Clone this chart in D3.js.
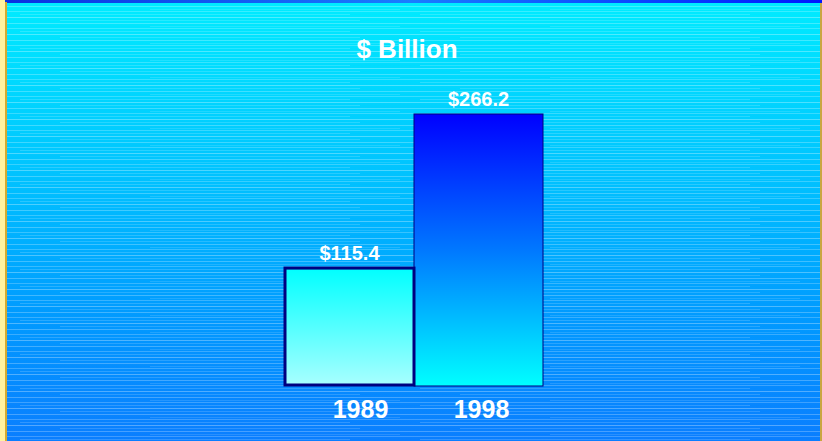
<!DOCTYPE html>
<html>
<head>
<meta charset="utf-8">
<script src="https://cdn.jsdelivr.net/npm/d3@7"></script>
<style>
  html, body { margin: 0; padding: 0; background: #fff; }
  svg { display: block; }
</style>
</head>
<body>
<div id="chart"></div>
<script>
// data
const years = ["1989", "1998"];
const values = [115.4, 266.2];
const valueLabels = ["$115.4", "$266.2"];
const unitTitle = "$ Billion";

function drawChart() {
    const W = 822, H = 441;
    const plot = {l: 285, r: 543, top: 114, bottom: 386};

    const svg = d3.select("#chart").append("svg")
        .attr("width", W)
        .attr("height", H);

    const defs = svg.append("defs");

    //Background gradient, cyan to blue
    const bg = defs.append("linearGradient").attr("id", "bgGrad")
        .attr("x1", 0).attr("y1", 0).attr("x2", 0).attr("y2", 1);
    bg.append("stop").attr("offset", "0%").attr("stop-color", "#00ecff");
    bg.append("stop").attr("offset", "40%").attr("stop-color", "#00c2ff");
    bg.append("stop").attr("offset", "70%").attr("stop-color", "#009cff");
    bg.append("stop").attr("offset", "100%").attr("stop-color", "#0a7eff");

    //Top strip gradient
    const topG = defs.append("linearGradient").attr("id", "topGrad");
    topG.append("stop").attr("offset", "0%").attr("stop-color", "#0a2ee0");
    topG.append("stop").attr("offset", "50%").attr("stop-color", "#1a7cff");
    topG.append("stop").attr("offset", "100%").attr("stop-color", "#0018ff");

    //streak texture
    const pat = defs.append("pattern").attr("id", "streaks")
        .attr("patternUnits", "userSpaceOnUse")
        .attr("width", 400).attr("height", 17);
    const streaks = [[0, 0.3, 0, 400], [3, 0.15, 60, 300], [6, 0.25, 0, 400],
        [9, 0.12, 150, 250], [11, 0.22, 0, 400], [14, 0.16, 20, 330]];
    streaks.forEach(s => {
        pat.append("rect")
            .attr("x", s[2]).attr("y", s[0])
            .attr("width", s[3]).attr("height", 1)
            .attr("fill", "#ffffff")
            .attr("opacity", s[1]);
    });

    //Bar gradients
    const g1 = defs.append("linearGradient").attr("id", "bar0")
        .attr("x1", 0).attr("y1", 0).attr("x2", 0).attr("y2", 1);
    g1.append("stop").attr("offset", "0%").attr("stop-color", "#00ffff");
    g1.append("stop").attr("offset", "100%").attr("stop-color", "#a8ffff");
    const g2 = defs.append("linearGradient").attr("id", "bar1")
        .attr("x1", 0).attr("y1", 0).attr("x2", 0).attr("y2", 1);
    g2.append("stop").attr("offset", "0%").attr("stop-color", "#0000ff");
    g2.append("stop").attr("offset", "50%").attr("stop-color", "#0078ff");
    g2.append("stop").attr("offset", "100%").attr("stop-color", "#00ffff");

    svg.append("rect").attr("width", W).attr("height", H).attr("fill", "url(#bgGrad)");
    svg.append("rect").attr("y", 4).attr("width", W).attr("height", H - 4).attr("fill", "url(#streaks)");
    svg.append("rect").attr("width", W).attr("height", 3).attr("fill", "url(#topGrad)");
    svg.append("rect").attr("x", 0).attr("y", 0).attr("width", 5).attr("height", H).attr("fill", "#fff2a0");
    svg.append("rect").attr("x", 5).attr("y", 2).attr("width", 2).attr("height", H).attr("fill", "#d4aa30");
    svg.append("rect").attr("x", 820).attr("y", 3).attr("width", 2).attr("height", H).attr("fill", "#c9a640");

    const x = d3.scaleBand().domain(years).range([plot.l, plot.r]).padding(0);
    const y = d3.scaleLinear().domain([0, 266.2]).range([plot.bottom, plot.top]);

    const font = "'Liberation Sans', Arial, sans-serif";

    //bars, taller one drawn first so the short one's outline sits on top
    const order = [1, 0];
    order.forEach(i => {
        svg.append("rect")
            .attr("x", x(years[i]))
            .attr("y", y(values[i]))
            .attr("width", x.bandwidth())
            .attr("height", y(0) - y(values[i]) - (i === 0 ? 1 : 0))
            .attr("fill", `url(#bar${i})`)
            .attr("stroke", "#000080")
            .attr("stroke-width", i === 0 ? 3 : 1);
    });

    //value labels
    years.forEach((yr, i) => {
        svg.append("text")
            .attr("x", x(yr) + x.bandwidth() / 2)
            .attr("y", y(values[i]) - 8)
            .attr("text-anchor", "middle")
            .attr("fill", "#ffffff")
            .attr("font-family", font)
            .attr("font-weight", "bold")
            .attr("font-size", 20)
            .text(valueLabels[i]);
    });

    //category labels
    const labelShift = [11, 3];
    years.forEach((yr, i) => {
        svg.append("text")
            .attr("x", x(yr) + x.bandwidth() / 2 + labelShift[i])
            .attr("y", 418)
            .attr("text-anchor", "middle")
            .attr("fill", "#ffffff")
            .attr("font-family", font)
            .attr("font-weight", "bold")
            .attr("font-size", 25)
            .text(yr);
    });

    //title
    svg.append("text")
        .attr("x", 407)
        .attr("y", 58)
        .attr("text-anchor", "middle")
        .attr("fill", "#ffffff")
        .attr("font-family", font)
        .attr("font-weight", "bold")
        .attr("font-size", 26)
        .text(unitTitle);
}
drawChart();
</script>
</body>
</html>
